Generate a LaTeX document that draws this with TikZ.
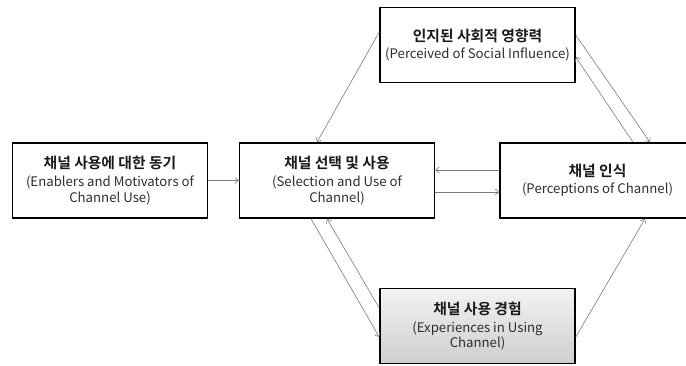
\documentclass[tikz,border=0pt]{standalone}
\usepackage{fontspec}
\setmainfont{Noto Sans CJK KR}[BoldFont={Noto Sans CJK KR Bold}]
\usetikzlibrary{arrows.meta,calc}
\definecolor{arrowgray}{HTML}{7A7A7A}
\definecolor{titlecol}{HTML}{1A1A1A}
\definecolor{subcol}{HTML}{2E2E2E}
\tikzset{
  box/.style={draw=black, line width=1.5pt, fill=white, minimum width=195pt, minimum height=75pt,
    align=center, inner sep=1pt, text=subcol, font=\fontsize{13.2}{15.5}\selectfont},
  shadedbox/.style={box, fill=none, top color=gray!10, bottom color=gray!38},
  conn/.style={draw=arrowgray, line width=0.6pt, -{Straight Barb[length=3.5pt,width=6pt]}}
}
\newcommand{\ktitle}[1]{{\color{titlecol}\bfseries\fontsize{14.8}{15.5}\selectfont #1}}
\begin{document}
\begin{tikzpicture}[x=1pt,y=1pt]
\useasboundingbox (0,0) rectangle (686,-365);
\node[box] (enab) at (110,-180.5) {\ktitle{채널 사용에 대한 동기}\\[2.5pt](Enablers and Motivators of\\Channel Use)};
\node[box] (sel) at (337,-180.5) {\ktitle{채널 선택 및 사용}\\[2.5pt](Selection and Use of\\Channel)};
\node[box] (perc) at (597.5,-180.5) {\ktitle{채널 인식}\\[1pt](Perceptions of Channel)};
\node[box] (top) at (477.5,-45) {\ktitle{인지된 사회적 영향력}\\[1pt](Perceived of Social Influence)};
\node[shadedbox] (exp) at (477.5,-326) {\ktitle{채널 사용 경험}\\[2.5pt](Experiences in Using\\Channel)};
\draw[conn] (enab) -- (sel);
\draw[conn] ([yshift=10.5pt]perc.west) -- ([yshift=10.5pt]sel.east);
\draw[conn] ([yshift=-11.5pt]sel.east) -- ([yshift=-11.5pt]perc.west);
\draw[conn] ([yshift=13pt]top.west) -- ([xshift=-20pt]sel.north);
\draw[conn] ([yshift=10pt]top.east) -- ([xshift=52.5pt]perc.north);
\draw[conn] ([xshift=35.5pt]perc.north) -- ([yshift=-12pt]top.east);
\draw[conn] ([xshift=-26pt]sel.south) -- ([yshift=-11pt]exp.west);
\draw[conn] ([yshift=18pt]exp.west) -- ([xshift=-10pt]sel.south);
\draw[conn] ([yshift=-11pt]exp.east) -- ([xshift=47.5pt]perc.south);
\end{tikzpicture}
\end{document}
